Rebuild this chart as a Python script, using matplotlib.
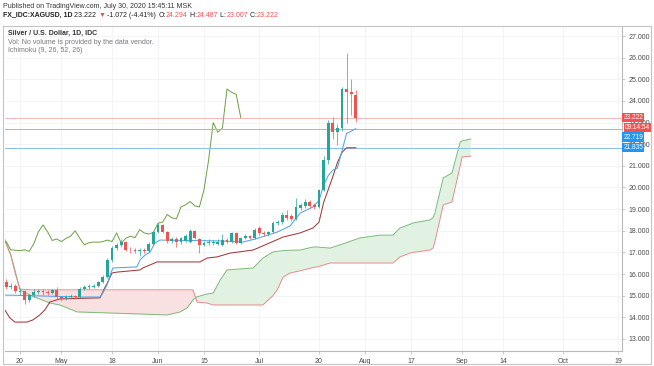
import numpy as np
import matplotlib
matplotlib.use('Agg')
import matplotlib.pyplot as plt
from matplotlib.patches import Rectangle
from matplotlib.transforms import blended_transform_factory

plt.rcParams['font.family'] = ['Liberation Sans', 'DejaVu Sans']

W, H = 654, 366

# daily bars, index 0 = Mon Apr 20 2020 (trading days, -3 = Apr 15, 73 = Jul 30)
bar_idx = list(range(-3, 74))
opens = [15.65, 15.40, 15.47, 15.15, 15.22, 14.80, 15.02, 15.18, 15.20, 15.17,
         15.12, 15.25, 14.92, 14.85, 14.93, 14.98, 14.92, 15.32, 15.40, 15.42,
         15.45, 15.62, 15.85, 16.65, 17.22, 17.35, 17.50, 17.12, 17.10, 17.08,
         17.12, 17.05, 17.40, 17.95, 18.27, 17.95, 17.55, 17.62, 17.50, 17.55,
         17.50, 18.00, 17.60, 17.35, 17.42, 17.45, 17.40, 17.35, 17.57, 17.48,
         17.90, 17.43, 17.65, 17.75, 17.68, 18.15, 17.90, 17.85, 17.95, 18.35,
         18.40, 18.75, 18.70, 18.55, 19.05, 19.15, 19.35, 19.20, 19.10, 19.90,
         21.27, 23.00, 22.55, 22.75, 24.55, 24.40, 24.294]
highs = [15.78, 15.58, 15.52, 15.35, 15.28, 15.10, 15.30, 15.32, 15.30, 15.25,
         15.33, 15.38, 15.00, 15.02, 15.08, 15.05, 15.40, 15.50, 15.52, 15.55,
         15.70, 15.95, 16.75, 17.30, 17.45, 17.60, 17.55, 17.25, 17.20, 17.22,
         17.20, 17.48, 18.00, 18.35, 18.30, 18.00, 17.72, 17.70, 17.72, 17.85,
         18.10, 18.05, 17.65, 17.55, 17.60, 17.58, 17.60, 17.85, 17.65, 17.95,
         17.95, 17.72, 17.85, 17.82, 18.12, 18.22, 17.98, 18.00, 18.45, 18.50,
         18.85, 18.95, 18.78, 19.50, 19.30, 19.45, 19.42, 19.30, 19.95, 21.45,
         23.10, 23.25, 22.95, 24.65, 26.20, 25.00, 24.487]
lows = [15.30, 15.32, 15.12, 15.05, 14.62, 14.70, 14.95, 15.08, 15.05, 15.02,
        15.08, 14.85, 14.75, 14.80, 14.88, 14.85, 14.88, 15.25, 15.30, 15.35,
        15.40, 15.58, 15.80, 16.55, 17.10, 17.25, 17.05, 16.95, 16.95, 16.85,
        16.98, 17.00, 17.35, 17.88, 17.88, 17.45, 17.45, 17.25, 17.40, 17.48,
        17.45, 17.60, 16.97, 17.28, 17.35, 17.35, 17.32, 17.30, 17.42, 17.42,
        17.38, 17.38, 17.60, 17.60, 17.62, 17.82, 17.75, 17.78, 17.90, 18.25,
        18.32, 18.50, 18.45, 18.50, 18.95, 19.05, 19.05, 19.00, 19.05, 19.85,
        21.10, 22.25, 21.95, 22.60, 23.00, 23.35, 23.007]
closes = [15.40, 15.47, 15.20, 15.22, 14.80, 15.02, 15.18, 15.20, 15.17, 15.12,
          15.25, 14.92, 14.85, 14.93, 14.98, 14.92, 15.32, 15.40, 15.42, 15.45,
          15.62, 15.85, 16.65, 17.22, 17.35, 17.50, 17.12, 17.10, 17.08, 17.12,
          17.05, 17.40, 17.95, 18.27, 17.95, 17.55, 17.62, 17.50, 17.65, 17.75,
          18.00, 17.65, 17.35, 17.45, 17.48, 17.47, 17.50, 17.57, 17.50, 17.90,
          17.43, 17.65, 17.75, 17.68, 18.05, 17.90, 17.85, 17.92, 18.35, 18.40,
          18.75, 18.60, 18.55, 19.10, 19.20, 19.35, 19.15, 19.10, 19.90, 21.27,
          23.00, 22.55, 22.75, 24.55, 24.40, 24.30, 23.222]

# ichimoku lines as (bar index, price) vertices
tenkan_x = [-3.3, 13, 17.4, 18, 18.9, 19.6, 20.2, 25.4, 26.1, 27.2, 28.3, 29.3, 30.4,
            43.5, 48.5, 51.1, 53.3, 55.9, 58.7, 60.9, 63.7, 65, 66, 67, 68, 69,
            70, 71, 72, 73]
tenkan_y = [15.03, 14.94, 14.94, 15.12, 15.49, 15.96, 16.28, 16.33, 16.65, 16.88, 17.02, 17.43, 17.57,
            17.53, 17.48, 17.62, 17.76, 17.94, 18.22, 18.82, 19.10, 19.40, 20.10, 20.55, 20.80, 20.90,
            21.70, 22.50, 22.60, 22.719]
kijun_x = [-3.3, -2.2, -1.1, 1.5, 2.8, 4.3, 5.4, 6.5, 8.7, 17.4, 18.5, 19.1, 20, 21.1,
           26.1, 26.7, 29.8, 39.1, 40.7, 42.8, 45.7, 50.7, 57.2, 60.9, 63.7, 65, 66,
           67, 68, 69, 70, 71, 73]
kijun_y = [14.34, 13.97, 13.78, 13.78, 13.88, 14.11, 14.34, 14.71, 14.85, 14.90, 15.40, 15.63, 16.05, 16.09,
           16.19, 16.28, 16.56, 16.56, 16.74, 16.79, 16.97, 17.11, 17.71, 17.90, 18.13, 18.40, 19.30,
           19.90, 20.50, 21.15, 21.62, 21.835, 21.835]
lead_x = [-3.3, -2, -1, 0, 3, 6.5, 8.7, 12.4, 19.6, 32, 34.8, 36.3, 37.6, 38.5, 40.7, 42,
          43.5, 45, 50.7, 52.8, 55, 55.9, 57.2, 58.7, 60.9, 63.7, 64.6, 67.4, 70.7, 73.9,
          78.3, 81.1, 82.6, 84.8, 85.4, 89.1, 89.8, 90.2, 92, 93.9, 95.7, 96.1, 98]
lead_a = [17.60, 16.90, 16.10, 15.26, 14.95, 14.66, 14.57, 14.25, 14.20, 14.11, 14.25, 14.43, 14.80, 14.95, 15.08, 15.12,
          15.72, 16.19, 16.28, 16.74, 17.02, 17.05, 17.08, 17.10, 17.11, 17.25, 17.25, 17.20, 17.43, 17.67,
          17.80, 17.80, 18.13, 18.30, 18.36, 18.50, 18.60, 18.82, 20.44, 20.67, 22.10, 22.15, 22.24]
lead_b = [17.55, 16.85, 16.00, 15.30, 15.27, 15.27, 15.27, 15.27, 15.27, 15.27, 15.27, 15.27, 15.27, 14.70, 14.66, 14.57,
          14.57, 14.57, 14.57, 14.57, 15.00, 15.26, 15.86, 16.05, 16.15, 16.30, 16.33, 16.51, 16.51, 16.51,
          16.51, 16.51, 16.79, 16.97, 17.00, 17.11, 17.20, 17.50, 19.19, 19.33, 21.00, 21.41, 21.45]
lag_shift = 25

tick_pos = [0, 9, 20, 30, 40, 52, 65, 75, 85, 96, 105, 118, 130]
tick_lab = ['20', 'May', '18', 'Jun', '15', 'Jul', '20', 'Aug', '17', 'Sep', '14', 'Oct', '19']
price_ticks = list(range(13, 28))

last_close = 23.222
tenkan_last = 22.719
kijun_last = 21.835

UP, DOWN = '#26a69a', '#ef5350'
GRID = '#f0f2f6'
TXT = '#4a4a4a'

fig = plt.figure(figsize=(W / 100, H / 100), dpi=100)
fig.patch.set_facecolor('white')

# chart pane: x 5..622, y 27..351 (pixels from top)
ax = fig.add_axes([5 / W, (H - 351) / H, 617 / W, 324 / H])
ax.set_xlim((5 - 20) / 4.6, (622 - 20) / 4.6)
ax.set_ylim(12.444, 27.416)

for t in tick_pos:
    ax.axvline(t, color=GRID, lw=0.6, zorder=0)
for p in price_ticks:
    ax.axhline(p, color=GRID, lw=0.6, zorder=0)

# cloud
la, lb = np.array(lead_a), np.array(lead_b)
ax.fill_between(lead_x, la, lb, where=la >= lb, interpolate=True, color='#e2f2e2', lw=0, zorder=1)
ax.fill_between(lead_x, la, lb, where=la < lb, interpolate=True, color='#fae1e1', lw=0, zorder=1)
ax.plot(lead_x, lead_a, color='#7dbb7d', lw=0.7, zorder=2)
ax.plot(lead_x, lead_b, color='#e88a8a', lw=0.7, zorder=2)

# lagging span = close moved back
ax.plot(np.array(bar_idx) - lag_shift, closes, color='#6c9f45', lw=0.7, zorder=2)
ax.plot(kijun_x, kijun_y, color='#a23a3a', lw=0.75, zorder=3)
ax.plot(tenkan_x, tenkan_y, color='#4da6e8', lw=0.75, zorder=3)

# level lines
ax.axhline(last_close, color='#f3a9a9', lw=0.6, zorder=2.5)
ax.axhline(tenkan_last, color='#86c0ec', lw=0.7, zorder=2.5)
ax.axhline(kijun_last, color='#86c0ec', lw=0.7, zorder=2.5)

# candles
o, hi, lo, c = map(np.array, (opens, highs, lows, closes))
col = [UP if cc >= oo else DOWN for oo, cc in zip(o, c)]
ax.vlines(bar_idx, lo, hi, colors=col, lw=0.5, zorder=4)
body = np.maximum(np.abs(c - o), 0.025)
ax.bar(bar_idx, body, bottom=np.minimum(o, c), width=0.62, color=col, lw=0, zorder=5)

# axes look
for s in ('top', 'left'):
    ax.spines[s].set_visible(False)
ax.spines['right'].set_color('#b8b8b8')
ax.spines['bottom'].set_color('#b8b8b8')
ax.spines['right'].set_linewidth(0.8)
ax.spines['bottom'].set_linewidth(0.8)
ax.yaxis.tick_right()
ax.set_yticks(price_ticks)
ax.set_yticklabels(['%.3f' % p for p in price_ticks])
ax.set_xticks(tick_pos)
ax.set_xticklabels(tick_lab)
ax.tick_params(axis='y', length=2.5, width=0.5, color='#b8b8b8', labelsize=5,
               labelcolor=TXT, pad=2)
ax.tick_params(axis='x', length=2.5, width=0.5, color='#b8b8b8', labelsize=5,
               labelcolor=TXT, pad=2.5)

# price scale labels
tr = blended_transform_factory(ax.transAxes, ax.transData)
def tag(y, s, fc, x=1.002):
    ax.text(x, y, s, transform=tr, fontsize=4.7, color='white', va='center', ha='left',
            zorder=20, clip_on=False,
            bbox=dict(boxstyle='square,pad=0.18', fc=fc, ec='none'))
tag(last_close, '23.222', '#ef5350')
tag(last_close - 0.45, '09:14:54', '#ef5350', x=1.005)
tag(22.33, '22.719', '#2196f3')
tag(kijun_last, '21.835', '#2196f3')

# outer container
fig.add_artist(Rectangle((3 / W, 1 - 364 / H), 648 / W, 338 / H, transform=fig.transFigure,
                         fill=False, ec='#c4c4c4', lw=0.8))

# legend inside pane
fig.text(8 / W, 1 - 33 / H, 'Silver / U.S. Dollar, 1D, IDC', fontsize=5, color='#333333',
         fontweight='bold', va='center')
fig.text(8 / W, 1 - 42 / H, 'Vol: No volume is provided by the data vendor.', fontsize=5,
         color='#777777', va='center')
fig.text(8 / W, 1 - 51 / H, 'Ichimoku (9, 26, 52, 26)', fontsize=5, color='#777777', va='center')

# header
fig.text(3 / W, 1 - 6 / H, 'Published on TradingView.com, July 30, 2020 15:45:11 MSK',
         fontsize=5, color='#333333', va='center')

renderer = fig.canvas.get_renderer()
pieces = [('FX_IDC:XAGUSD, 1D', '#222222', 'bold'), (' 23.222 ', '#222222', 'normal'),
          ('\u25bc', '#ef5350', 'normal'), (' -1.072 (-4.41%) ', '#222222', 'normal'),
          ('O:', '#222222', 'normal'), ('24.294', '#ef5350', 'normal'),
          (' H:', '#222222', 'normal'), ('24.487', '#ef5350', 'normal'),
          (' L:', '#222222', 'normal'), ('23.007', '#ef5350', 'normal'),
          (' C:', '#222222', 'normal'), ('23.222', '#ef5350', 'normal')]
xpos = 3.0
for s, cl, wt in pieces:
    t = fig.text(xpos / W, 1 - 15.5 / H, s, fontsize=5, color=cl, fontweight=wt, va='center')
    xpos += t.get_window_extent(renderer).width

fig.savefig('out.png', dpi=100, facecolor='white')
